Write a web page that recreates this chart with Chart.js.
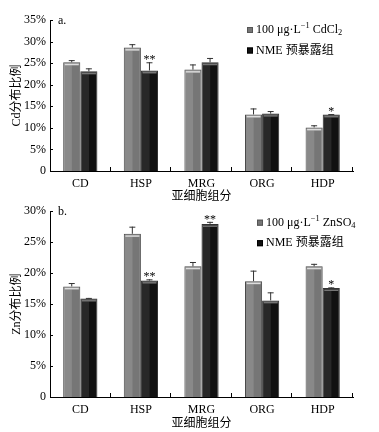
<!DOCTYPE html>
<html>
<head>
<meta charset="utf-8">
<script src="https://cdn.jsdelivr.net/npm/chart.js@4.4.0/dist/chart.umd.min.js"></script>
<style>
body { margin: 0; background: #fff; width: 379px; height: 432px; overflow: hidden; position: relative; }
canvas { position: absolute; left: 0; }
#cdChart { top: 0; }
#znChart { top: 200px; }
</style>
</head>
<body>
<canvas id="cdChart" width="379" height="204"></canvas>
<canvas id="znChart" width="379" height="232"></canvas>
<script>
// datos (%)
const categories = ['CD', 'HSP', 'MRG', 'ORG', 'HDP'];
const cdControl = [25.2, 28.6, 23.5, 13.1, 10.1];
const cdControlErr = [0.5, 0.8, 1.2, 1.4, 0.5];
const cdNme = [23.1, 23.3, 25.2, 13.3, 13.1];
const cdNmeErr = [0.7, 1.9, 1.0, 0.6, 0.1];
const cdStars = ['', '**', '', '', '*'];
const znControl = [17.85, 26.35, 21.1, 18.7, 21.1];
const znControlErr = [0.55, 1.15, 0.7, 1.7, 0.4];
const znNme = [15.9, 18.8, 27.95, 15.6, 17.6];
const znNmeErr = [0.1, 0.2, 0.33, 1.3, 0.1];
const znStars = ['', '**', '**', '', '*'];
const cdLegend = ['100 μg·L^{−1} CdCl_{2}', 'NME 预暴露组'];
const znLegend = ['100 μg·L^{−1} ZnSO_{4}', 'NME 预暴露组'];

const FONT = '"Liberation Serif", "Noto Sans CJK SC", serif';
const GRAY = '#767676';
const BLACK = '#111111';

function drawRich(ctx, str, x, y, size) {
    const parts = str.split(/(\^\{[^}]*\}|_\{[^}]*\})/);
    parts.forEach(p => {
        if (!p) return;
        let t = p, fs = size, dy = 0;
        if (p.startsWith('^{')) { t = p.slice(2, -1); fs = size * 0.7; dy = -size * 0.35; }
        else if (p.startsWith('_{')) { t = p.slice(2, -1); fs = size * 0.7; dy = size * 0.25; }
        ctx.font = fs + 'px ' + FONT;
        ctx.fillText(t, x, y + dy);
        x += ctx.measureText(t).width;
    });
}

// barras de error, asteriscos, marcas de ejes, leyenda
const extras = {
    id: 'extras',
    afterDatasetsDraw(chart, args, opts) {
        const ctx = chart.ctx;
        const y = chart.scales.y;
        ctx.save();
        chart.data.datasets.forEach((ds, di) => {
            const meta = chart.getDatasetMeta(di);
            meta.data.forEach((bar, i) => {
                const w = bar.width;
                const h = bar.base - bar.y;
                // sombreado tipo 3D
                ctx.fillStyle = di === 0 ? 'rgba(255,255,255,0.14)' : 'rgba(110,110,110,0.25)';
                ctx.fillRect(bar.x - w / 2 + 1, bar.y + 3, w * 0.45, h - 3);
                ctx.fillStyle = di === 0 ? 'rgba(255,255,255,0.75)' : 'rgba(160,160,160,0.7)';
                ctx.fillRect(bar.x - w / 2 + 1.5, bar.y + 1.5, w - 3, 1.5);
                // error
                const top = y.getPixelForValue(ds.data[i] + opts.errors[di][i]);
                ctx.strokeStyle = '#333';
                ctx.lineWidth = 1;
                ctx.beginPath();
                ctx.moveTo(bar.x, bar.y);
                ctx.lineTo(bar.x, top);
                ctx.moveTo(bar.x - 3, top + 0.5);
                ctx.lineTo(bar.x + 3, top + 0.5);
                ctx.stroke();
                if (di === 1 && opts.stars[i]) {
                    ctx.fillStyle = '#000';
                    ctx.font = '12px ' + FONT;
                    ctx.textAlign = 'center';
                    ctx.textBaseline = 'alphabetic';
                    ctx.fillText(opts.stars[i], bar.x, top + 1);
                }
            });
        });
        ctx.restore();
    },
    afterDraw(chart, args, opts) {
        const ctx = chart.ctx;
        const y = chart.scales.y;
        const area = chart.chartArea;
        ctx.save();
        ctx.strokeStyle = '#000';
        ctx.lineWidth = 1;
        ctx.beginPath();
        const catW = (area.right - area.left) / categories.length;
        for (let i = 1; i <= categories.length; i++) {
            const px = Math.round(area.left + i * catW) - 0.5;
            ctx.moveTo(px, area.bottom);
            ctx.lineTo(px, area.bottom - 4);
        }
        y.ticks.forEach(t => {
            if (t.value === 0) return;
            const py = Math.round(y.getPixelForValue(t.value)) + 0.5;
            ctx.moveTo(area.left, py);
            ctx.lineTo(area.left + 3, py);
        });
        ctx.stroke();

        // letra del panel
        ctx.fillStyle = '#000';
        ctx.font = '12px ' + FONT;
        ctx.textBaseline = 'middle';
        ctx.fillText(opts.panel, area.left + 8, area.top + 1);

        // leyenda
        const colors = [GRAY, BLACK];
        opts.legend.forEach((lbl, i) => {
            const ly = opts.legendY + i * 20.5;
            ctx.fillStyle = colors[i];
            ctx.fillRect(opts.legendX, ly - 3, 6, 6);
            ctx.strokeStyle = i === 0 ? '#555' : '#000';
            ctx.strokeRect(opts.legendX + 0.5, ly - 2.5, 5, 5);
            ctx.fillStyle = '#000';
            ctx.textBaseline = 'middle';
            drawRich(ctx, lbl, opts.legendX + 9, ly, 12);
        });
        ctx.restore();
    }
};

function makeChart(id, control, nme, errA, errB, stars, yMax, yTitle, legend, panel, legendX, legendY, padTop, padBottom, axisH) {
    return new Chart(document.getElementById(id), {
        type: 'bar',
        data: {
            labels: categories,
            datasets: [
                { label: legend[0], data: control, backgroundColor: GRAY, borderColor: '#4a4a4a', borderWidth: 1 },
                { label: legend[1], data: nme, backgroundColor: BLACK, borderColor: '#333', borderWidth: 1 }
            ]
        },
        options: {
            responsive: false,
            animation: false,
            layout: { padding: { top: padTop, left: 10, right: 26, bottom: padBottom } },
            datasets: { bar: { barPercentage: 1.0, categoryPercentage: 0.565 } },
            plugins: {
                legend: { display: false },
                tooltip: { enabled: false },
                extras: { errors: [errA, errB], stars: stars, legend: legend, panel: panel, legendX: legendX, legendY: legendY }
            },
            scales: {
                x: {
                    grid: { display: false, drawTicks: false },
                    border: { display: true, color: '#000', width: 1 },
                    ticks: { color: '#000', padding: 6, font: { family: FONT, size: 12 } },
                    title: { display: true, text: '亚细胞组分', color: '#000', padding: 0, font: { family: FONT, size: 12 } },
                    afterFit: s => { s.height = axisH; }
                },
                y: {
                    min: 0, max: yMax,
                    grid: { display: false, drawTicks: false },
                    border: { display: true, color: '#000', width: 1 },
                    ticks: { stepSize: 5, color: '#000', padding: 4, font: { family: FONT, size: 12 },
                             callback: v => v === 0 ? '0' : v + '%' },
                    title: { display: true, text: yTitle, color: '#000', padding: 0, font: { family: FONT, size: 12 } },
                    afterFit: s => { s.width = 40; }
                }
            }
        },
        plugins: [extras]
    });
}

makeChart('cdChart', cdControl, cdNme, cdControlErr, cdNmeErr, cdStars, 35, 'Cd分布比例', cdLegend, 'a.', 247, 30, 20, 0, 33);
makeChart('znChart', znControl, znNme, znControlErr, znNmeErr, znStars, 30, 'Zn分布比例', znLegend, 'b.', 257, 22.7, 11, 1, 34);
</script>
</body>
</html>
